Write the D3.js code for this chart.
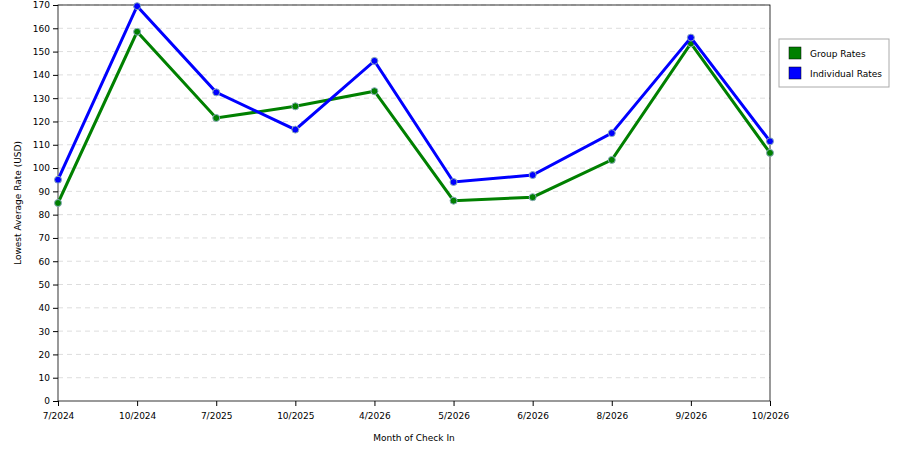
<!DOCTYPE html>
<html><head><meta charset="utf-8">
<script src="https://cdn.jsdelivr.net/npm/d3@7"></script>
<style>body{margin:0;background:#fff;font-family:"DejaVu Sans",sans-serif}</style>
</head><body><svg id="c" width="900" height="450"></svg>
<script>
const categories=["7/2024","10/2024","7/2025","10/2025","4/2026","5/2026","6/2026","8/2026","9/2026","10/2026"];
const groupRates=[85,158.5,121.5,126.5,133,86,87.5,103.5,153.5,106.5];
const individualRates=[95,169.5,132.5,116.5,146,94,97,115,156,111.5];
const yTicks=d3.range(0,171,10);
const svg=d3.select("#c");
const m={l:58,r:770,t:5,b:401};
const x=d3.scalePoint().domain(categories).range([m.l,m.r]);
const y=d3.scaleLinear().domain([0,170]).range([m.b,m.t]);
const g=svg.append("g");
g.selectAll(".grid").data(yTicks.filter(d=>d>0)).join("line")
 .attr("x1",m.l).attr("x2",m.r).attr("y1",d=>y(d)).attr("y2",d=>y(d))
 .attr("stroke","#ddd").attr("stroke-dasharray","5,4");
g.append("rect").attr("x",m.l).attr("y",m.t).attr("width",m.r-m.l).attr("height",m.b-m.t).attr("fill","none").attr("stroke","#000").attr("stroke-width",0.8);
const ya=svg.append("g").attr("transform",`translate(${m.l},0)`).call(d3.axisLeft(y).tickValues(yTicks).tickSize(5).tickSizeOuter(0));
const xa=svg.append("g").attr("transform",`translate(0,${m.b})`).call(d3.axisBottom(x).tickSize(5).tickSizeOuter(0));
[ya,xa].forEach(a=>{a.selectAll("text").attr("font-size",9).attr("fill","#000").attr("font-family","DejaVu Sans");a.select(".domain").remove();});
xa.selectAll("text").attr("dy","1.1em");
svg.append("text").attr("x",(m.l+m.r)/2).attr("y",441).attr("text-anchor","middle").attr("font-size",9).text("Month of Check In");
svg.append("text").attr("transform",`translate(21,${(m.t+m.b)/2}) rotate(-90)`).attr("text-anchor","middle").attr("font-size",9).text("Lowest Average Rate (USD)");
const series=[{name:"Group Rates",vals:groupRates,c:"#008000"},{name:"Individual Rates",vals:individualRates,c:"#0000ff"}];
const line=d3.line().x((d,i)=>x(categories[i])).y(d=>y(d));
series.forEach(s=>{
 svg.append("path").datum(s.vals).attr("d",line).attr("fill","none").attr("stroke",s.c).attr("stroke-width",3);
 svg.selectAll(null).data(s.vals).join("circle").attr("cx",(d,i)=>x(categories[i])).attr("cy",d=>y(d)).attr("r",3.5)
  .attr("fill",s.c).attr("stroke","#8ab").attr("stroke-width",1);
});
const lg=svg.append("g");
lg.append("rect").attr("x",779).attr("y",39).attr("width",110).attr("height",48).attr("fill","#fff").attr("stroke","#aaa");
series.forEach((s,i)=>{
 lg.append("rect").attr("x",789).attr("y",47+i*20).attr("width",12).attr("height",12).attr("fill",s.c).attr("stroke","#000").attr("stroke-width",0.5);
 lg.append("text").attr("x",810).attr("y",57+i*20).attr("font-size",9).text(s.name);
});
</script></body></html>
